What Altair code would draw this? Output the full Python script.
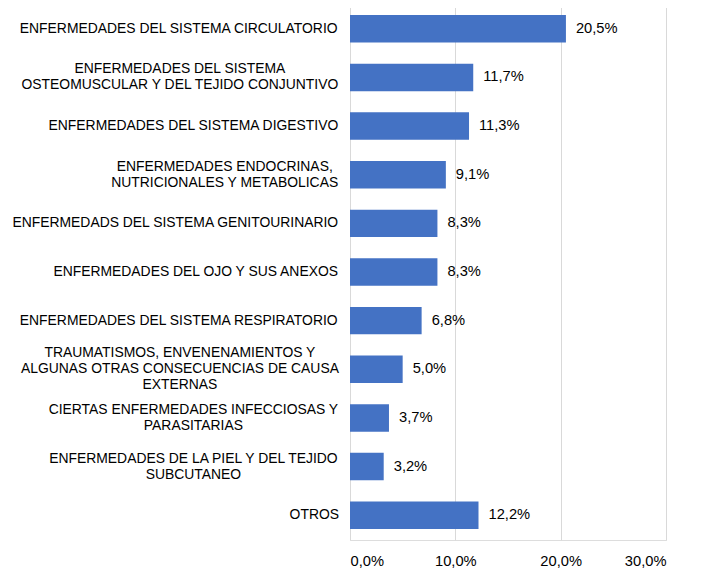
import altair as alt
import pandas as pd

categories = [
    "ENFERMEDADES DEL SISTEMA CIRCULATORIO",
    "ENFERMEDADES DEL SISTEMA|OSTEOMUSCULAR Y DEL TEJIDO CONJUNTIVO",
    "ENFERMEDADES DEL SISTEMA DIGESTIVO",
    "ENFERMEDADES ENDOCRINAS,|NUTRICIONALES Y METABOLICAS",
    "ENFERMEDADS DEL SISTEMA GENITOURINARIO",
    "ENFERMEDADES DEL OJO Y SUS ANEXOS",
    "ENFERMEDADES DEL SISTEMA RESPIRATORIO",
    "TRAUMATISMOS, ENVENENAMIENTOS Y|ALGUNAS OTRAS CONSECUENCIAS DE CAUSA|EXTERNAS",
    "CIERTAS ENFERMEDADES INFECCIOSAS Y|PARASITARIAS",
    "ENFERMEDADES DE LA PIEL Y DEL TEJIDO|SUBCUTANEO",
    "OTROS",
]
values = [20.5, 11.7, 11.3, 9.1, 8.3, 8.3, 6.8, 5.0, 3.7, 3.2, 12.2]
x_ticks = [0, 0.1, 0.2, 0.3]

df = pd.DataFrame({"cat": categories, "pct": [v / 100 for v in values]})

FONT = "Liberation Sans"
CAT_FS = 13.9
NUM_FS = 14.7
LINE_H = 16
GAP = 11.5

# Arial / Liberation Sans advance widths (per 1000 em) for the glyphs used,
# needed to centre the wrapped label lines on each other.
ADV = {
    "A": 667, "B": 667, "C": 722, "D": 722, "E": 667, "F": 611, "G": 778,
    "H": 722, "I": 278, "J": 500, "K": 667, "L": 556, "M": 833, "N": 722,
    "O": 778, "P": 667, "Q": 778, "R": 722, "S": 667, "T": 611, "U": 722,
    "V": 667, "W": 944, "X": 667, "Y": 667, "Z": 611, " ": 278, ",": 278,
}


def block_width(label):
    return max(sum(ADV.get(ch, 600) for ch in line) for line in label.split("|")) * CAT_FS / 1000


pad_expr = str(GAP)
for c in reversed(categories):
    pad_expr = f"datum.label === '{c}' ? {GAP + block_width(c) / 2:.1f} : ({pad_expr})"

y_enc = alt.Y(
    "cat:N",
    sort=categories,
    title=None,
    scale=alt.Scale(paddingInner=0.436, paddingOuter=0.228),
    axis=alt.Axis(
        labelExpr="split(datum.label, '|')",
        labelFont=FONT,
        labelFontSize=CAT_FS,
        labelColor="#000000",
        labelLineHeight=LINE_H,
        labelAlign="center",
        labelBaseline="middle",
        labelPadding=alt.ExprRef(pad_expr),
        labelOffset=alt.ExprRef(f"-(length(split(datum.label, '|')) - 1) * {LINE_H / 2}"),
        labelLimit=400,
        ticks=False,
        domain=False,
        grid=False,
    ),
)

x_enc = alt.X(
    "pct:Q",
    title=None,
    scale=alt.Scale(domain=[0, 0.3], nice=False),
    axis=alt.Axis(
        values=x_ticks,
        labelExpr="replace(format(datum.value, '.1%'), '.', ',')",
        labelFont=FONT,
        labelFontSize=NUM_FS,
        labelColor="#000000",
        labelPadding=13,
        ticks=False,
        domain=False,
        grid=True,
        gridColor="#D9D9D9",
        gridWidth=1,
    ),
)

base = alt.Chart(df)

bars = base.mark_bar(color="#4472C4").encode(x=x_enc, y=y_enc)

labels = base.transform_calculate(
    lab="replace(format(datum.pct, '.1%'), '.', ',')"
).mark_text(
    align="left", baseline="middle", dx=10, font=FONT, fontSize=NUM_FS, color="#000000"
).encode(x="pct:Q", y=alt.Y("cat:N", sort=categories), text="lab:N")

chart = (
    (bars + labels)
    .properties(
        width=316,
        height=536,
        autosize=alt.AutoSizeParams(type="none"),
        padding={"left": 342, "top": -4, "right": 20, "bottom": 32},
    )
    .configure_view(stroke=None)
    .configure(background="white")
)

chart.save("out.html", embed_options={"renderer": "svg", "actions": False})
